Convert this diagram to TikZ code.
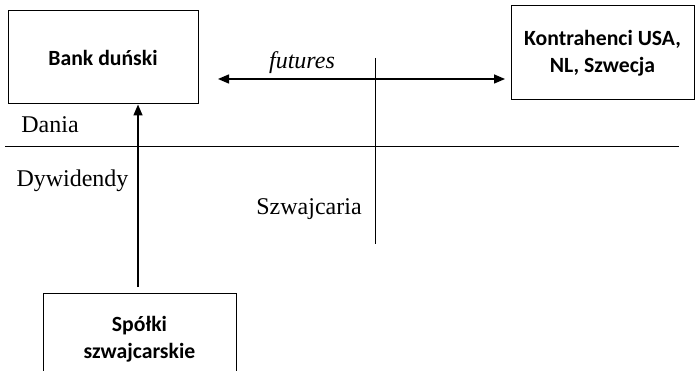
\documentclass[tikz,border=0pt]{standalone}
\usepackage{fontspec}
\setmainfont{Liberation Serif}
\newfontfamily\boxfont{Carlito}
\usetikzlibrary{arrows.meta}
\begin{document}
\begin{tikzpicture} [x=1pt, y=-1pt]
	\tikzset{box/.style={draw, line width=1pt, align=center, inner sep=0pt, font=\boxfont\bfseries\fontsize{21.7}{27}\selectfont}}
	\tikzset{label/.style={font=\fontsize{24}{28}\selectfont}}
	\tikzset{line/.style={line width=1pt}}
	\tikzset{flow/.style={line width=1.5pt, -{Triangle[length=11pt,width=9pt]}}}
	\useasboundingbox (0,0) rectangle (695,371);

	\node[box, minimum width=190, minimum height=93]	(bank)		at (103,57.5)	{Bank duński};
	\node[box, minimum width=183, minimum height=94]	(kontr)		at (602.5,53)	{Kontrahenci USA,\\NL, Szwecja};
	\node[box, minimum width=193, minimum height=93]	(spolki)	at (139.5,339.5)	{Spółki\\szwajcarskie};

	\node[label]	(dania)		at (50,125)		{Dania};
	\node[label]	(dyw)		at (72.5,181)	{Dywidendy};
	\node[label]	(szw)		at (309,209)	{Szwajcaria};
	\node[label]	(fut)		at (302,63)		{\itshape futures};

	\coordinate (hl) at (5,146.5);
	\coordinate (hr) at (679,146.5);
	\coordinate (vt) at (375,58);
	\coordinate (vb) at (375,244);
	\coordinate (fl) at (218,79);
	\coordinate (fr) at (505,79);
	\coordinate (div) at (138,287);

	\draw[line] (hl) -- (hr);
	\draw[line] (vt) -- (vb);
	\draw[flow, {Triangle[length=11pt,width=9pt]}-{Triangle[length=11pt,width=9pt]}] (fl) -- (fr);
	\draw[flow] (div) -- (div |- bank.south);
\end{tikzpicture}
\end{document}
